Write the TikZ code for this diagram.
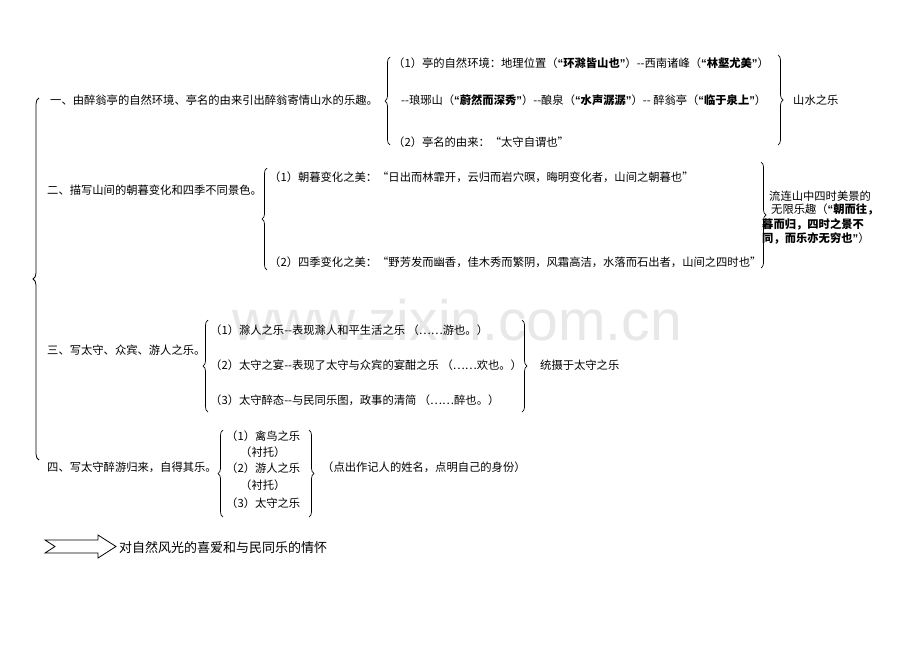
\documentclass[tikz,border=0pt]{standalone}
\usepackage{fontspec}
\setmainfont{Noto Sans CJK SC}
\newfontfamily\wmfont{Liberation Sans}
\newfontfamily\lsb{Liberation Sans}
\usetikzlibrary{decorations.pathreplacing}
\newcommand\hl[1]{{\bfseries #1}}
\newcommand\qo{{\lsb\bfseries “}}
\newcommand\qc{{\lsb\bfseries ”}}
\newcommand\dsh{\mbox{-}\mbox{-}}
\tikzset{
  txt/.style={anchor=west, inner sep=0pt, font=\fontsize{11.3}{13}\selectfont},
  big/.style={anchor=west, inner sep=0pt, font=\fontsize{13}{15}\selectfont},
  brc/.style={decorate, decoration={brace, amplitude=5pt}, line width=0.7pt},
  bigbrc/.style={decorate, decoration={brace, amplitude=6pt}, line width=0.8pt},
  arr/.style={draw=black, line width=0.8pt, fill=white},
  wm/.style={anchor=base west, inner sep=0pt, text=black!9, font=\wmfont\fontsize{57}{60}\selectfont}
}
\begin{document}
\begin{tikzpicture}[x=1pt,y=-1pt]
\useasboundingbox (0,0) rectangle (920,651);
\fill[white] (0,0) rectangle (920,651);
% watermark
\node[wm] (wm) at (232,340) {www.zixin.com.cn};

% big left brace
\draw[bigbrc] (39,460) -- (39,98);

% section 1
\node[txt] (s1) at (50,100) {一、由醉翁亭的自然环境、亭名的由来引出醉翁寄情山水的乐趣。};
\draw[brc] (390,145) -- (390,57);
\node[txt] (a1) at (393,63) {（1）亭的自然环境：地理位置（\hl{\qo 环滁皆山也\qc}）\dsh 西南诸峰（\hl{\qo 林壑尤美\qc}）};
\node[txt] (a2) at (401,100) {\dsh 琅琊山（\hl{\qo 蔚然而深秀\qc}）\dsh 酿泉（\hl{\qo 水声潺潺\qc}）\dsh{} 醉翁亭（\hl{\qo 临于泉上\qc}）};
\node[txt] (a3) at (393,142) {（2）亭名的由来：“太守自谓也”};
\draw[brc] (778,55) -- (778,145);
\node[txt] (r1) at (793,100) {山水之乐};

% section 2
\node[txt] (s2) at (47,190) {二、描写山间的朝暮变化和四季不同景色。};
\draw[brc] (267,270) -- (267,168);
\node[txt] (b1) at (269,177) {（1）朝暮变化之美：“日出而林霏开，云归而岩穴暝，晦明变化者，山间之朝暮也”};
\node[txt] (b2) at (269,262) {（2）四季变化之美：“野芳发而幽香，佳木秀而繁阴，风霜高洁，水落而石出者，山间之四时也”};
\draw[brc] (761,162) -- (761,268);
\node[txt] (r2a) at (769,196) {流连山中四时美景的};
\node[txt] (r2b) at (771,210) {无限乐趣（\hl{\qo 朝而往，}};
\node[txt] (r2c) at (762,224) {\hl{暮而归，四时之景不}};
\node[txt] (r2d) at (762,238) {\hl{同，而乐亦无穷也\qc}）};

% section 3
\node[txt] (s3) at (47,350) {三、写太守、众宾、游人之乐。};
\draw[brc] (208,412) -- (208,320);
\node[txt] (c1) at (210,330) {（1）滁人之乐\dsh 表现滁人和平生活之乐 （……游也。）};
\node[txt] (c2) at (210,365) {（2）太守之宴\dsh 表现了太守与众宾的宴酣之乐 （……欢也。）};
\node[txt] (c3) at (210,400) {（3）太守醉态\dsh 与民同乐图，政事的清简 （……醉也。）};
\draw[brc] (522,320) -- (522,412);
\node[txt] (r3) at (540,365) {统摄于太守之乐};

% section 4
\node[txt] (s4) at (47,467) {四、写太守醉游归来，自得其乐。};
\draw[brc] (223,517) -- (223,430);
\node[txt] (d1) at (226,436) {（1）禽鸟之乐};
\node[txt] (d2) at (240,452) {（衬托）};
\node[txt] (d3) at (226,468) {（2）游人之乐};
\node[txt] (d4) at (240,485) {（衬托）};
\node[txt] (d5) at (226,503) {（3）太守之乐};
\draw[brc] (309,430) -- (309,517);
\node[txt] (r4) at (322,467) {（点出作记人的姓名，点明自己的身份）};

% bottom arrow
\draw[arr] (45,540) -- (98,540) -- (98,535) -- (116,546.5) -- (98,558) -- (98,553) -- (45,553) -- (55,546.5) -- cycle;
\node[big] (con) at (119,548) {对自然风光的喜爱和与民同乐的情怀};
\end{tikzpicture}
\end{document}
